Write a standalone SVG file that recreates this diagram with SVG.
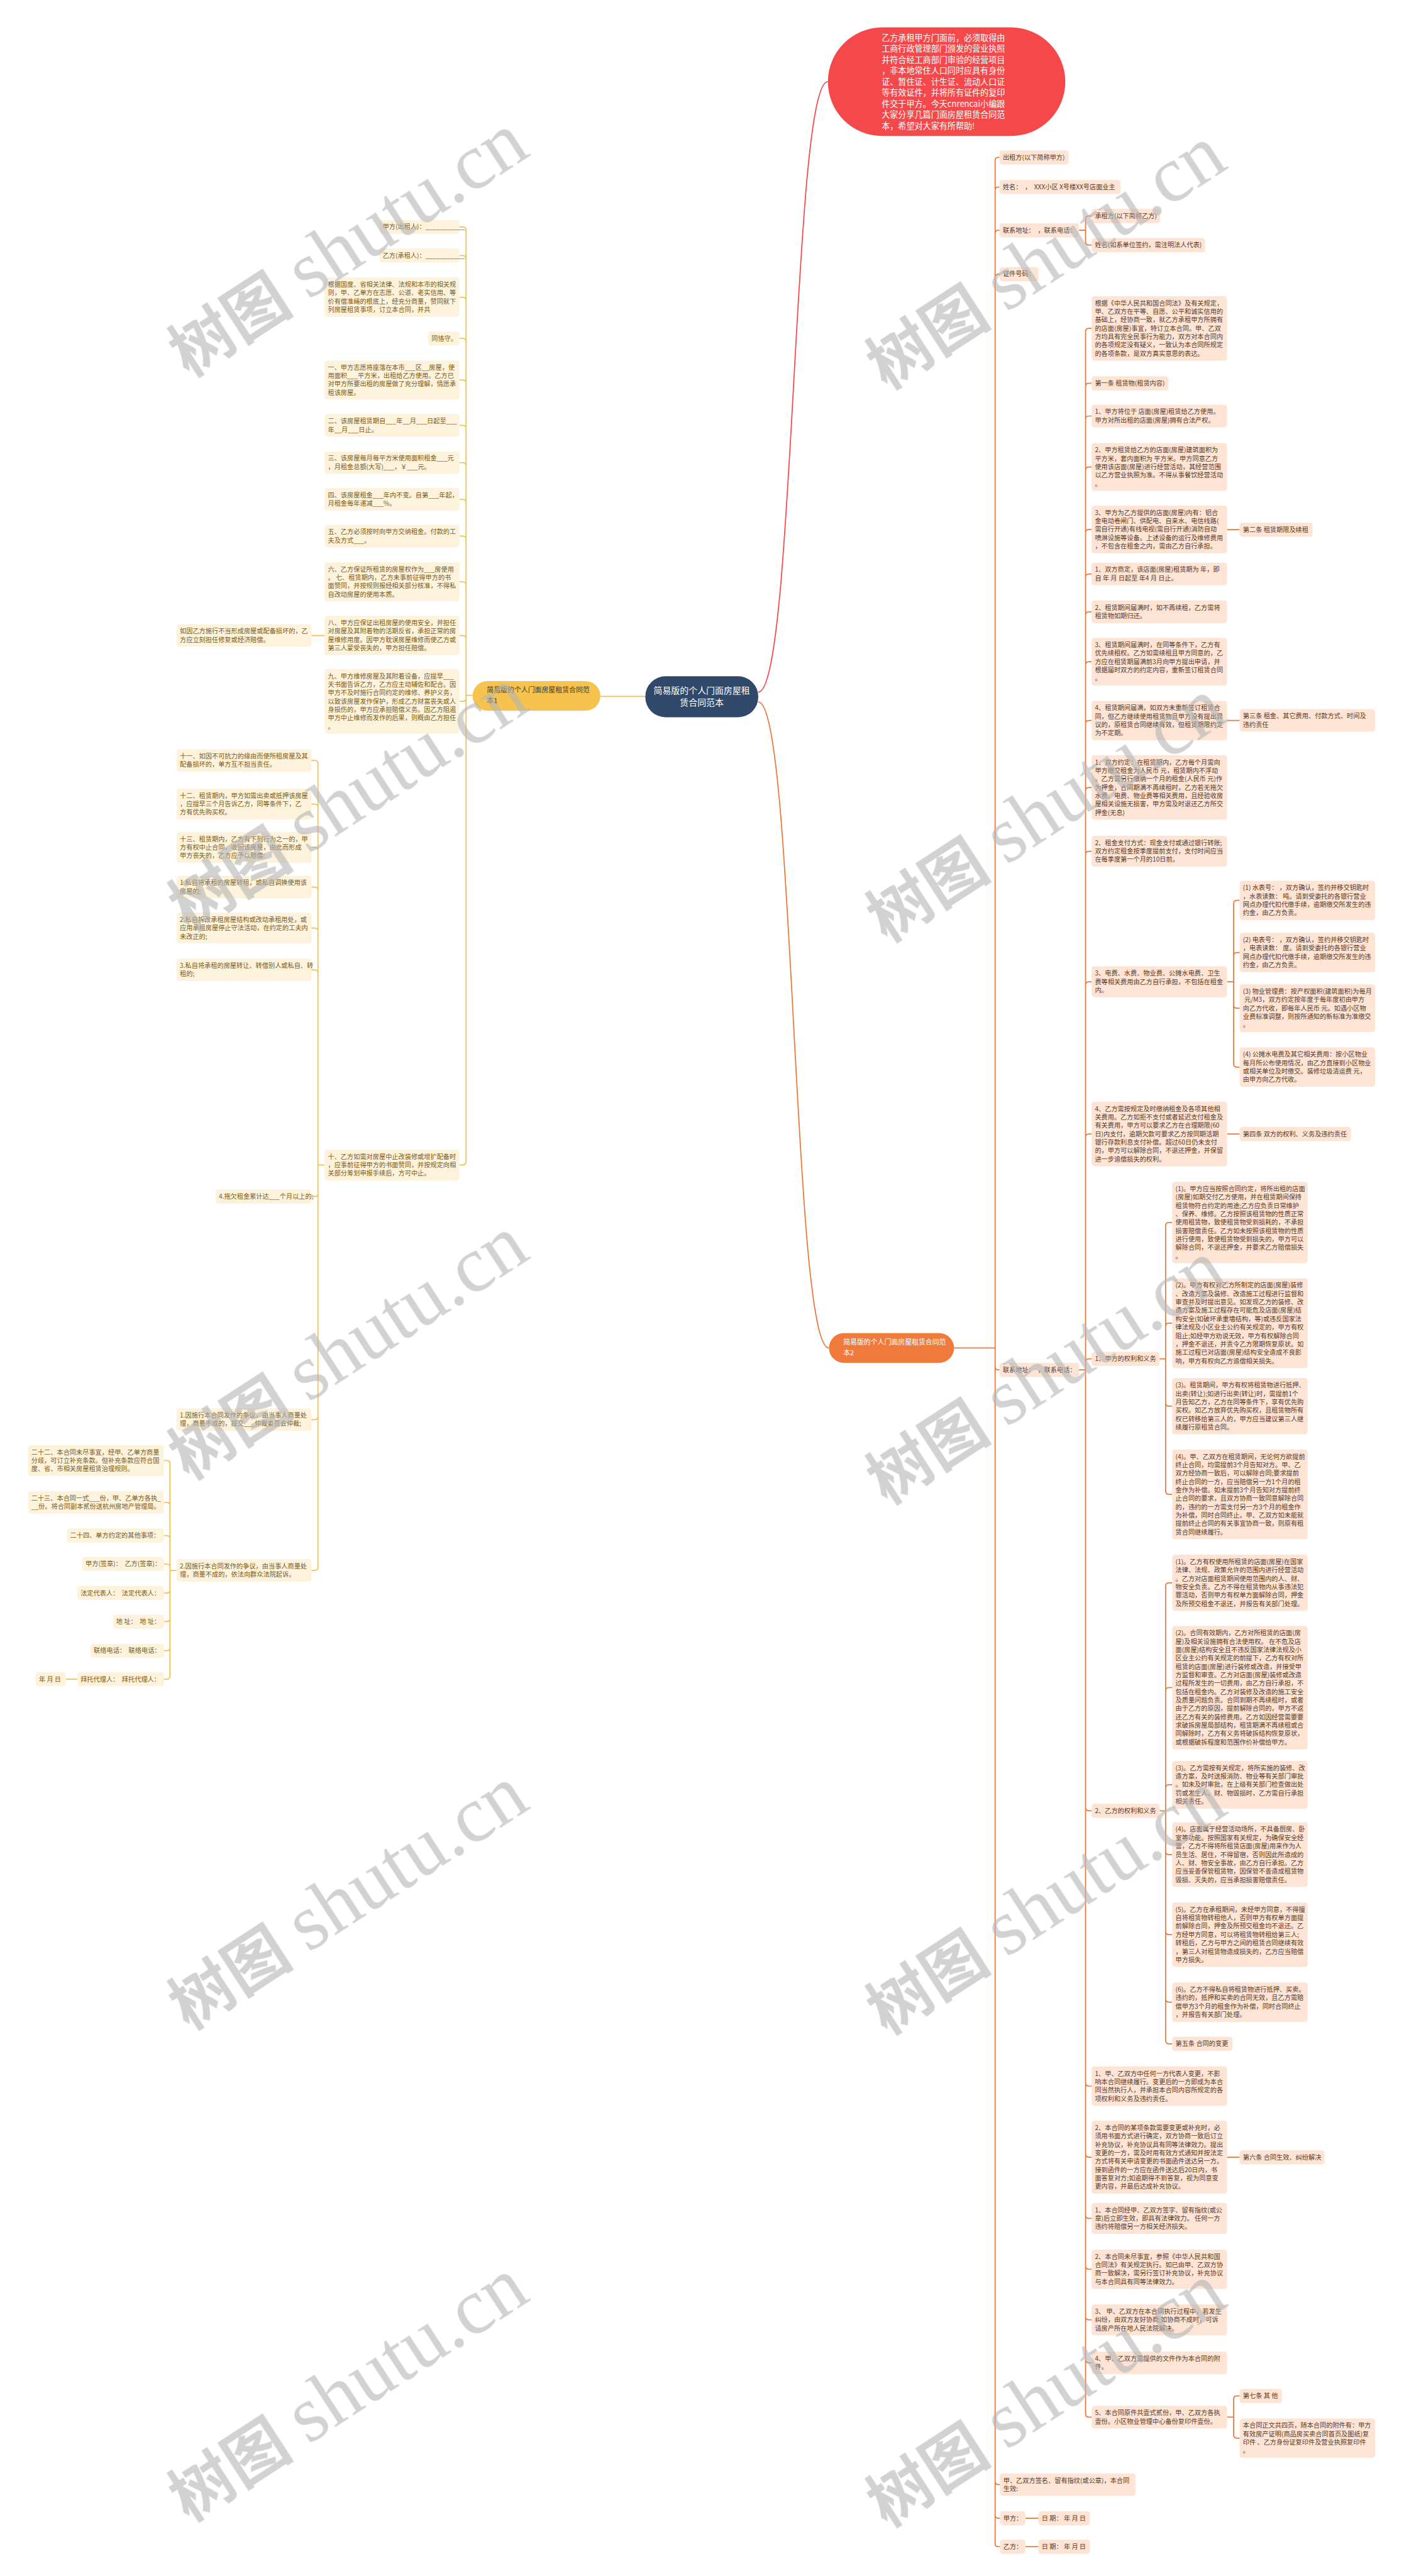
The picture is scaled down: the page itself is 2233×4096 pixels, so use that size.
<svg xmlns="http://www.w3.org/2000/svg" width="2233" height="4096" viewBox="0 0 2233 4096">
<style>
text{font-family:"Noto Sans CJK SC","Noto Sans",sans-serif;}
.rb{fill:#fde4d4}
.lb{fill:#fdf3dc}
.rt{fill:#5b3a28;font-size:11.7px}
.lt{fill:#7b5a18;font-size:11.7px}
.rc{fill:none;stroke:#e8783a;stroke-width:2}
.lc{fill:none;stroke:#f2c14e;stroke-width:2}
.wm{fill:#b4b4b4;opacity:0.6}
</style>
<rect width="2233" height="4096" fill="#ffffff"/>
<g transform="scale(0.872)">
<g id="connectors">
<path d="M1383,1262 C1450,1262 1445,149 1510,149" fill="none" stroke="#f4484b" stroke-width="2"/>
<path class="rc" d="M1383,1280 C1450,1280 1445,2458 1512,2458"/>
<path class="lc" d="M1177,1270 H1095"/>
<path class="rc" d="M1740,2458H1815 M1815,292.9V4637.9 M1815,292.9Q1815,286.9 1821,286.9H1823 M1815,346.9Q1815,340.9 1821,340.9H1823 M1815,425.9Q1815,419.9 1821,419.9H1823 M1815,505.9Q1815,499.9 1821,499.9H1823 M1815,2491.9Q1815,2497.9 1821,2497.9H1823 M1815,4524.6Q1815,4530.6 1821,4530.6H1824 M1815,4585.9Q1815,4591.9 1821,4591.9H1824 M1815,4637.9Q1815,4643.9 1821,4643.9H1824"/>
<path class="rc" d="M1968,419.9H1980 M1980,399.9V440.9 M1980,399.9Q1980,393.9 1986,393.9H1991 M1980,440.9Q1980,446.9 1986,446.9H1991"/>
<path class="rc" d="M1968,2497.9H1980 M1980,604.8V4401.6 M1980,604.8Q1980,598.8 1986,598.8H1991 M1980,704.9Q1980,698.9 1986,698.9H1991 M1980,764.6Q1980,758.6 1986,758.6H1991 M1980,857.5Q1980,851.5 1986,851.5H1991 M1980,971.5Q1980,965.5 1986,965.5H1991 M1980,1052.6Q1980,1046.6 1986,1046.6H1991 M1980,1121.6Q1980,1115.6 1986,1115.6H1991 M1980,1212.5Q1980,1206.5 1986,1206.5H1991 M1980,1319.9Q1980,1313.9 1986,1313.9H1991 M1980,1441.8Q1980,1435.8 1986,1435.8H1991 M1980,1558.2Q1980,1552.2 1986,1552.2H1991 M1980,1796.2Q1980,1790.2 1986,1790.2H1991 M1980,2073.8Q1980,2067.8 1986,2067.8H1991 M1980,2483.9Q1980,2477.9 1986,2477.9H1991 M1980,3295.9Q1980,3301.9 1986,3301.9H1991 M1980,3797.9Q1980,3803.9 1986,3803.9H1991 M1980,3927.5Q1980,3933.5 1986,3933.5H1991 M1980,4039.2Q1980,4045.2 1986,4045.2H1991 M1980,4131.9Q1980,4137.9 1986,4137.9H1991 M1980,4224.2Q1980,4230.2 1986,4230.2H1991 M1980,4302.6Q1980,4308.6 1986,4308.6H1991 M1980,4401.6Q1980,4407.6 1986,4407.6H1991"/>
<path class="rc" d="M2238,965.7H2261 M2238,1313.8H2261 M2238,2067.8H2261 M2238,3933.7H2261 M1870,4591.9H1894 M1870,4643.9H1894"/>
<path class="rc" d="M2238,1790.2H2250 M2250,1647.9V1939.9 M2250,1647.9Q2250,1641.9 2256,1641.9H2261 M2250,1742.9Q2250,1736.9 2256,1736.9H2261 M2250,1832.5Q2250,1838.5 2256,1838.5H2261 M2250,1939.9Q2250,1945.9 2256,1945.9H2261"/>
<path class="rc" d="M2115,2477.9H2126 M2126,2235.1V2718.8 M2126,2235.1Q2126,2229.1 2132,2229.1H2138 M2126,2418.8Q2126,2412.8 2132,2412.8H2138 M2126,2558.2Q2126,2564.2 2132,2564.2H2138 M2126,2718.8Q2126,2724.8 2132,2724.8H2138"/>
<path class="rc" d="M2115,3301.9H2126 M2126,2892.2V3720.9 M2126,2892.2Q2126,2886.2 2132,2886.2H2138 M2126,3083.4Q2126,3077.4 2132,3077.4H2138 M2126,3260.5Q2126,3254.5 2132,3254.5H2138 M2126,3375.8Q2126,3381.8 2132,3381.8H2138 M2126,3521.8Q2126,3527.8 2132,3527.8H2138 M2126,3644.9Q2126,3650.9 2132,3650.9H2138 M2126,3720.9Q2126,3726.9 2132,3726.9H2138"/>
<path class="rc" d="M2238,4407.6H2250 M2250,4374.9V4439.9 M2250,4374.9Q2250,4368.9 2256,4368.9H2261 M2250,4439.9Q2250,4445.9 2256,4445.9H2261"/>
<path class="lc" d="M862,1268H850 M850,419.9V2118.2 M850,419.9Q850,413.9 844,413.9H838 M850,471.9Q850,465.9 844,465.9H838 M850,547.9Q850,541.9 844,541.9H838 M850,622.9Q850,616.9 844,616.9H838 M850,698.9Q850,692.9 844,692.9H838 M850,781.6Q850,775.6 844,775.6H838 M850,849.6Q850,843.6 844,843.6H838 M850,916.6Q850,910.6 844,910.6H838 M850,983.6Q850,977.6 844,977.6H838 M850,1066.9Q850,1060.9 844,1060.9H838 M850,1164.9Q850,1158.9 844,1158.9H838 M850,1272.8Q850,1278.8 844,1278.8H838 M850,2118.2Q850,2124.2 844,2124.2H838"/>
<path class="lc" d="M592,1158.9H568"/>
<path class="lc" d="M592,2124.2H580 M580,1392.6V2857.6 M580,1392.6Q580,1386.6 574,1386.6H568 M580,1472.2Q580,1466.2 574,1466.2H568 M580,1551.2Q580,1545.2 574,1545.2H568 M580,1623.6Q580,1617.6 574,1617.6H568 M580,1698.2Q580,1692.2 574,1692.2H568 M580,1774.6Q580,1768.6 574,1768.6H568 M580,2175.9Q580,2181.9 574,2181.9H568 M580,2582.6Q580,2588.6 574,2588.6H568 M580,2857.6Q580,2863.6 574,2863.6H568"/>
<path class="lc" d="M322,2863.6H310 M310,2669.2V3055.9 M310,2669.2Q310,2663.2 304,2663.2H299 M310,2745.6Q310,2739.6 304,2739.6H299 M310,2805.9Q310,2799.9 304,2799.9H299 M310,2857.9Q310,2851.9 304,2851.9H299 M310,2898.9Q310,2904.9 304,2904.9H299 M310,2950.9Q310,2956.9 304,2956.9H299 M310,3003.9Q310,3009.9 304,3009.9H299 M310,3055.9Q310,3061.9 304,3061.9H299 M141,3061.9H120"/>
</g>

<g id="root">
<rect x="1177" y="1233" width="206" height="75" rx="37" fill="#30496a"/>
<text x="1280" y="1265" fill="#ffffff" font-size="16" text-anchor="middle"><tspan x="1280">简易版的个人门面房屋租</tspan><tspan x="1280" dy="22">赁合同范本</tspan></text>
</g>
<g id="intro">
<rect x="1510" y="50" width="433" height="198" rx="99" fill="#f4484b"/>
<text x="1608" y="74.6" fill="#ffffff" font-size="15"><tspan x="1608">乙方承租甲方门面前，必须取得由</tspan><tspan x="1608" dy="20">工商行政管理部门颁发的营业执照</tspan><tspan x="1608" dy="20">并符合经工商部门审验的经营项目</tspan><tspan x="1608" dy="20">，非本地常住人口同时应具有身份</tspan><tspan x="1608" dy="20">证、暂住证、计生证、流动人口证</tspan><tspan x="1608" dy="20">等有效证件，并将所有证件的复印</tspan><tspan x="1608" dy="20">件交于甲方。今天cnrencai小编跟</tspan><tspan x="1608" dy="20">大家分享几篇门面房屋租赁合同范</tspan><tspan x="1608" dy="20">本，希望对大家有所帮助!</tspan></text>
</g>
<g id="branch1">
<rect x="862" y="1242" width="233" height="54" rx="27" fill="#f6c34f"/>
<text x="888" y="1263" fill="#3d3a30" font-size="12.5"><tspan x="888">简易版的个人门面房屋租赁合同范</tspan><tspan x="888" dy="19">本1</tspan></text>
</g>
<g id="branch2">
<rect x="1512" y="2431" width="228" height="54" rx="27" fill="#ef7a3b"/>
<text x="1538" y="2452" fill="#ffffff" font-size="12.5"><tspan x="1538">简易版的个人门面房屋租赁合同范</tspan><tspan x="1538" dy="19">本2</tspan></text>
</g>

<g id="r-top1"><rect class="rb" x="1823" y="274" width="126" height="25.8" rx="5"/><text class="rt" x="1829" y="291">出租方(以下简称甲方)</text></g>
<g id="r-top2"><rect class="rb" x="1823" y="328" width="221" height="25.8" rx="5"/><text class="rt" x="1829" y="345">姓名：&#160;&#160;，&#160;&#160;XXX小区 X号楼XX号店面业主</text></g>
<g id="r-top3"><rect class="rb" x="1823" y="407" width="145" height="25.8" rx="5"/><text class="rt" x="1829" y="424">联系地址：&#160;&#160;，联系电话：</text></g>
<g id="r-top3a"><rect class="rb" x="1991" y="381" width="125" height="25.8" rx="5"/><text class="rt" x="1997" y="398">承租方(以下简称乙方)</text></g>
<g id="r-top3b"><rect class="rb" x="1991" y="434" width="207" height="25.8" rx="5"/><text class="rt" x="1997" y="451">姓名(如系单位签约，需注明法人代表)</text></g>
<g id="r-top4"><rect class="rb" x="1823" y="487" width="71" height="25.8" rx="5"/><text class="rt" x="1829" y="504">证件号码：</text></g>
<g id="r-addr2"><rect class="rb" x="1823" y="2485" width="145" height="25.8" rx="5"/><text class="rt" x="1829" y="2502">联系地址：&#160;&#160;，联系电话：</text></g>
<g id="r-sign"><rect class="rb" x="1824" y="4510" width="247" height="41.1" rx="5"/><text class="rt" x="1830" y="4527"><tspan x="1830">甲、乙双方签名、留有指纹(或公章)，本合同</tspan><tspan x="1830" dy="15.3">生效:</tspan></text></g>
<g id="r-jia"><rect class="rb" x="1824" y="4579" width="46" height="25.8" rx="5"/><text class="rt" x="1830" y="4596">甲方：</text></g>
<g id="r-jia-d"><rect class="rb" x="1894" y="4579" width="94" height="25.8" rx="5"/><text class="rt" x="1900" y="4596">日 期：&#160;年 月 日</text></g>
<g id="r-yi"><rect class="rb" x="1824" y="4631" width="46" height="25.8" rx="5"/><text class="rt" x="1830" y="4648">乙方：</text></g>
<g id="r-yi-d"><rect class="rb" x="1894" y="4631" width="94" height="25.8" rx="5"/><text class="rt" x="1900" y="4648">日 期：&#160;年 月 日</text></g>

<g id="r1"><rect class="rb" x="1991" y="540" width="247" height="117.6" rx="5"/><text class="rt" x="1997" y="557"><tspan x="1997">根据《中华人民共和国合同法》及有关规定，</tspan><tspan x="1997" dy="15.3">甲、乙双方在平等、自愿、公平和诚实信用的</tspan><tspan x="1997" dy="15.3">基础上，经协商一致，就乙方承租甲方所拥有</tspan><tspan x="1997" dy="15.3">的店面(房屋)事宜，特订立本合同。甲、乙双</tspan><tspan x="1997" dy="15.3">方均具有完全民事行为能力，双方对本合同内</tspan><tspan x="1997" dy="15.3">的各项规定没有疑义，一致认为本合同所规定</tspan><tspan x="1997" dy="15.3">的各项条款，是双方真实意思的表达。</tspan></text></g>
<g id="r2"><rect class="rb" x="1991" y="686" width="140" height="25.8" rx="5"/><text class="rt" x="1997" y="703">第一条 租赁物(租赁内容)</text></g>
<g id="r3"><rect class="rb" x="1991" y="738" width="247" height="41.1" rx="5"/><text class="rt" x="1997" y="755"><tspan x="1997">1、甲方将位于 店面(房屋)租赁给乙方使用。</tspan><tspan x="1997" dy="15.3">甲方对所出租的店面(房屋)拥有合法产权。</tspan></text></g>
<g id="r4"><rect class="rb" x="1991" y="808" width="247" height="87" rx="5"/><text class="rt" x="1997" y="825"><tspan x="1997">2、甲方租赁给乙方的店面(房屋)建筑面积为</tspan><tspan x="1997" dy="15.3">平方米，套内面积为 平方米。甲方同意乙方</tspan><tspan x="1997" dy="15.3">使用该店面(房屋)进行经营活动，其经营范围</tspan><tspan x="1997" dy="15.3">以乙方营业执照为准。不得从事餐饮经营活动</tspan><tspan x="1997" dy="15.3">。</tspan></text></g>
<g id="r5"><rect class="rb" x="1991" y="922" width="247" height="87" rx="5"/><text class="rt" x="1997" y="939"><tspan x="1997">3、甲方为乙方提供的店面(房屋)内有：铝合</tspan><tspan x="1997" dy="15.3">金电动卷闸门、供配电、自来水、电信线路(</tspan><tspan x="1997" dy="15.3">需自行开通)有线电视(需自行开通)消防自动</tspan><tspan x="1997" dy="15.3">喷淋设施等设备。上述设备的运行及维修费用</tspan><tspan x="1997" dy="15.3">，不包含在租金之内，需由乙方自行承担。</tspan></text></g>
<g id="r5a"><rect class="rb" x="2261" y="953" width="133" height="25.8" rx="5"/><text class="rt" x="2267" y="970">第二条 租赁期限及续租</text></g>
<g id="r6"><rect class="rb" x="1991" y="1026" width="247" height="41.1" rx="5"/><text class="rt" x="1997" y="1043"><tspan x="1997">1、双方商定，该店面(房屋)租赁期为 年，即</tspan><tspan x="1997" dy="15.3">自 年 月 日起至 年4 月 日止。</tspan></text></g>
<g id="r7"><rect class="rb" x="1991" y="1095" width="247" height="41.1" rx="5"/><text class="rt" x="1997" y="1112"><tspan x="1997">2、租赁期间届满时，如不再续租，乙方需将</tspan><tspan x="1997" dy="15.3">租赁物如期归还。</tspan></text></g>
<g id="r8"><rect class="rb" x="1991" y="1163" width="247" height="87" rx="5"/><text class="rt" x="1997" y="1180"><tspan x="1997">3、租赁期间届满时，在同等条件下，乙方有</tspan><tspan x="1997" dy="15.3">优先续租权。乙方如需续租且甲方同意的，乙</tspan><tspan x="1997" dy="15.3">方应在租赁期届满前3月向甲方提出申请，并</tspan><tspan x="1997" dy="15.3">根据届时双方的约定内容，重新签订租赁合同</tspan><tspan x="1997" dy="15.3">。</tspan></text></g>
<g id="r9"><rect class="rb" x="1991" y="1278" width="247" height="71.7" rx="5"/><text class="rt" x="1997" y="1295"><tspan x="1997">4、租赁期间届满，如双方未重新签订租赁合</tspan><tspan x="1997" dy="15.3">同，但乙方继续使用租赁物且甲方没有提出异</tspan><tspan x="1997" dy="15.3">议的，原租赁合同继续有效，但租赁期限约定</tspan><tspan x="1997" dy="15.3">为不定期。</tspan></text></g>
<g id="r9a"><rect class="rb" x="2261" y="1293" width="247" height="41.1" rx="5"/><text class="rt" x="2267" y="1310"><tspan x="2267">第三条 租金、其它费用、付款方式、时间及</tspan><tspan x="2267" dy="15.3">违约责任</tspan></text></g>
<g id="r10"><rect class="rb" x="1991" y="1377" width="247" height="117.6" rx="5"/><text class="rt" x="1997" y="1394"><tspan x="1997">1、双方约定：在租赁期内，乙方每个月需向</tspan><tspan x="1997" dy="15.3">甲方缴交租金为人民币 元，租赁期内不浮动</tspan><tspan x="1997" dy="15.3">。乙方需另行缴纳一个月的租金(人民币 元)作</tspan><tspan x="1997" dy="15.3">为押金，合同期满不再续租时，乙方若无拖欠</tspan><tspan x="1997" dy="15.3">水费、电费、物业费等相关费用，且经验收房</tspan><tspan x="1997" dy="15.3">屋相关设施无损害，甲方需及时退还乙方所交</tspan><tspan x="1997" dy="15.3">押金(无息)</tspan></text></g>
<g id="r11"><rect class="rb" x="1991" y="1524" width="247" height="56.4" rx="5"/><text class="rt" x="1997" y="1541"><tspan x="1997">2、租金支付方式：现金支付或通过银行转账;</tspan><tspan x="1997" dy="15.3">双方约定租金按季度提前支付，支付时间应当</tspan><tspan x="1997" dy="15.3">在每季度第一个月的10日前。</tspan></text></g>
<g id="r12"><rect class="rb" x="1991" y="1762" width="247" height="56.4" rx="5"/><text class="rt" x="1997" y="1779"><tspan x="1997">3、电费、水费、物业费、公摊水电费、卫生</tspan><tspan x="1997" dy="15.3">费等相关费用由乙方自行承担，不包括在租金</tspan><tspan x="1997" dy="15.3">内。</tspan></text></g>
<g id="r12a"><rect class="rb" x="2261" y="1606" width="247" height="71.7" rx="5"/><text class="rt" x="2267" y="1623"><tspan x="2267">(1) 水表号： ，双方确认，签约并移交钥匙时</tspan><tspan x="2267" dy="15.3">，水表读数： 吨。请到受委托的各银行营业</tspan><tspan x="2267" dy="15.3">网点办理代扣代缴手续，逾期缴交所发生的违</tspan><tspan x="2267" dy="15.3">约金，由乙方负责。</tspan></text></g>
<g id="r12b"><rect class="rb" x="2261" y="1701" width="247" height="71.7" rx="5"/><text class="rt" x="2267" y="1718"><tspan x="2267">(2) 电表号： ，双方确认，签约并移交钥匙时</tspan><tspan x="2267" dy="15.3">，电表读数： 度。请到受委托的各银行营业</tspan><tspan x="2267" dy="15.3">网点办理代扣代缴手续，逾期缴交所发生的违</tspan><tspan x="2267" dy="15.3">约金，由乙方负责。</tspan></text></g>
<g id="r12c"><rect class="rb" x="2261" y="1795" width="247" height="87" rx="5"/><text class="rt" x="2267" y="1812"><tspan x="2267">(3) 物业管理费：按产权面积(建筑面积)为每月</tspan><tspan x="2267" dy="15.3"> 元/M3，双方约定按年度于每年度初由甲方</tspan><tspan x="2267" dy="15.3">向乙方代收，即每年人民币 元。如遇小区物</tspan><tspan x="2267" dy="15.3">业费标准调整，则按所通知的新标准为准缴交</tspan><tspan x="2267" dy="15.3">。</tspan></text></g>
<g id="r12d"><rect class="rb" x="2261" y="1910" width="247" height="71.7" rx="5"/><text class="rt" x="2267" y="1927"><tspan x="2267">(4) 公摊水电费及其它相关费用：按小区物业</tspan><tspan x="2267" dy="15.3">每月所公布使用情况，由乙方直接到小区物业</tspan><tspan x="2267" dy="15.3">或相关单位及时缴交。装修垃圾清运费 元，</tspan><tspan x="2267" dy="15.3">由甲方向乙方代收。</tspan></text></g>
<g id="r13"><rect class="rb" x="1991" y="2009" width="247" height="117.6" rx="5"/><text class="rt" x="1997" y="2026"><tspan x="1997">4、乙方需按规定及时缴纳租金及各项其他相</tspan><tspan x="1997" dy="15.3">关费用。乙方如拒不支付或者延迟支付租金及</tspan><tspan x="1997" dy="15.3">有关费用，甲方可以要求乙方在合理期限(60</tspan><tspan x="1997" dy="15.3">日)内支付，逾期欠款可要求乙方按同期活期</tspan><tspan x="1997" dy="15.3">银行存款利息支付补偿。超过60日仍未支付</tspan><tspan x="1997" dy="15.3">的，甲方可以解除合同，不退还押金，并保留</tspan><tspan x="1997" dy="15.3">进一步追偿损失的权利。</tspan></text></g>
<g id="r13a"><rect class="rb" x="2261" y="2055" width="203" height="25.8" rx="5"/><text class="rt" x="2267" y="2072">第四条 双方的权利、义务及违约责任</text></g>
<g id="r14"><rect class="rb" x="1991" y="2465" width="124" height="25.8" rx="5"/><text class="rt" x="1997" y="2482">1、甲方的权利和义务</text></g>
<g id="r14a"><rect class="rb" x="2138" y="2155" width="247" height="148.2" rx="5"/><text class="rt" x="2144" y="2172"><tspan x="2144">(1)。甲方应当按照合同约定，将所出租的店面</tspan><tspan x="2144" dy="15.3">(房屋)如期交付乙方使用，并在租赁期间保持</tspan><tspan x="2144" dy="15.3">租赁物符合约定的用途;乙方应负责日常维护</tspan><tspan x="2144" dy="15.3">、保养、维修。乙方按照该租赁物的性质正常</tspan><tspan x="2144" dy="15.3">使用租赁物，致使租赁物受到损耗的，不承担</tspan><tspan x="2144" dy="15.3">损害赔偿责任。乙方如未按照该租赁物的性质</tspan><tspan x="2144" dy="15.3">进行使用，致使租赁物受到损失的，甲方可以</tspan><tspan x="2144" dy="15.3">解除合同，不退还押金，并要求乙方赔偿损失</tspan><tspan x="2144" dy="15.3">。</tspan></text></g>
<g id="r14b"><rect class="rb" x="2138" y="2331" width="247" height="163.5" rx="5"/><text class="rt" x="2144" y="2348"><tspan x="2144">(2)。甲方有权对乙方所制定的店面(房屋)装修</tspan><tspan x="2144" dy="15.3">、改造方案及装修、改造施工过程进行监督和</tspan><tspan x="2144" dy="15.3">审查并及时提出意见。如发现乙方的装修、改</tspan><tspan x="2144" dy="15.3">造方案及施工过程存在可能危及店面(房屋)结</tspan><tspan x="2144" dy="15.3">构安全(如破坏承重墙结构，等)或违反国家法</tspan><tspan x="2144" dy="15.3">律法规及小区业主公约有关规定的，甲方有权</tspan><tspan x="2144" dy="15.3">阻止;如经甲方劝说无效，甲方有权解除合同</tspan><tspan x="2144" dy="15.3">，押金不退还，并责令乙方限期恢复原状。如</tspan><tspan x="2144" dy="15.3">施工过程已对店面(房屋)结构安全造成不良影</tspan><tspan x="2144" dy="15.3">响，甲方有权向乙方追偿相关损失。</tspan></text></g>
<g id="r14c"><rect class="rb" x="2138" y="2513" width="247" height="102.3" rx="5"/><text class="rt" x="2144" y="2530"><tspan x="2144">(3)。租赁期间，甲方有权将租赁物进行抵押、</tspan><tspan x="2144" dy="15.3">出卖(转让);如进行出卖(转让)时，需提前1个</tspan><tspan x="2144" dy="15.3">月告知乙方，乙方在同等条件下，享有优先购</tspan><tspan x="2144" dy="15.3">买权。如乙方放弃优先购买权，且租赁物所有</tspan><tspan x="2144" dy="15.3">权已转移给第三人的，甲方应当建议第三人继</tspan><tspan x="2144" dy="15.3">续履行原租赁合同。</tspan></text></g>
<g id="r14d"><rect class="rb" x="2138" y="2643" width="247" height="163.5" rx="5"/><text class="rt" x="2144" y="2660"><tspan x="2144">(4)。甲、乙双方在租赁期间，无论何方欲提前</tspan><tspan x="2144" dy="15.3">终止合同，均需提前3个月告知对方。甲、乙</tspan><tspan x="2144" dy="15.3">双方经协商一致后，可以解除合同;要求提前</tspan><tspan x="2144" dy="15.3">终止合同的一方，应当赔偿另一方1个月的租</tspan><tspan x="2144" dy="15.3">金作为补偿。如未提前3个月告知对方提前终</tspan><tspan x="2144" dy="15.3">止合同的要求，且双方协商一致同意解除合同</tspan><tspan x="2144" dy="15.3">的，违约的一方需支付另一方3个月的租金作</tspan><tspan x="2144" dy="15.3">为补偿，同时合同终止。甲、乙双方如未能就</tspan><tspan x="2144" dy="15.3">提前终止合同的有关事宜协商一致，则原有租</tspan><tspan x="2144" dy="15.3">赁合同继续履行。</tspan></text></g>
<g id="r15"><rect class="rb" x="1991" y="3289" width="124" height="25.8" rx="5"/><text class="rt" x="1997" y="3306">2、乙方的权利和义务</text></g>
<g id="r15a"><rect class="rb" x="2138" y="2835" width="247" height="102.3" rx="5"/><text class="rt" x="2144" y="2852"><tspan x="2144">(1)。乙方有权使用所租赁的店面(房屋)在国家</tspan><tspan x="2144" dy="15.3">法律、法规、政策允许的范围内进行经营活动</tspan><tspan x="2144" dy="15.3">。乙方对店面租赁期间使用范围内的人、财、</tspan><tspan x="2144" dy="15.3">物安全负责。乙方不得在租赁物内从事违法犯</tspan><tspan x="2144" dy="15.3">罪活动，否则甲方有权单方面解除合同，押金</tspan><tspan x="2144" dy="15.3">及所预交租金不退还，并报告有关部门处理。</tspan></text></g>
<g id="r15b"><rect class="rb" x="2138" y="2965" width="247" height="224.7" rx="5"/><text class="rt" x="2144" y="2982"><tspan x="2144">(2)。合同有效期内，乙方对所租赁的店面(房</tspan><tspan x="2144" dy="15.3">屋)及相关设施拥有合法使用权。 在不危及店</tspan><tspan x="2144" dy="15.3">面(房屋)结构安全且不违反国家法律法规及小</tspan><tspan x="2144" dy="15.3">区业主公约有关规定的前提下，乙方有权对所</tspan><tspan x="2144" dy="15.3">租赁的店面(房屋)进行装修或改造，并接受甲</tspan><tspan x="2144" dy="15.3">方监督和审查。乙方对店面(房屋)装修或改造</tspan><tspan x="2144" dy="15.3">过程所发生的一切费用，由乙方自行承担，不</tspan><tspan x="2144" dy="15.3">包括在租金内。乙方对装修及改造的施工安全</tspan><tspan x="2144" dy="15.3">及质量问题负责。合同到期不再续租时，或者</tspan><tspan x="2144" dy="15.3">由于乙方的原因，提前解除合同的，甲方不返</tspan><tspan x="2144" dy="15.3">还乙方有关的装修费用。乙方如因经营需要要</tspan><tspan x="2144" dy="15.3">求破拆房屋局部结构，租赁期满不再续租或合</tspan><tspan x="2144" dy="15.3">同解除时，乙方有义务将破拆结构恢复原状，</tspan><tspan x="2144" dy="15.3">或根据破拆程度和范围作价补偿给甲方。</tspan></text></g>
<g id="r15c"><rect class="rb" x="2138" y="3211" width="247" height="87" rx="5"/><text class="rt" x="2144" y="3228"><tspan x="2144">(3)。乙方需按有关规定，将所实施的装修、改</tspan><tspan x="2144" dy="15.3">造方案，及时送报消防、物业等有关部门审批</tspan><tspan x="2144" dy="15.3">。如未及时审批，在上级有关部门检查做出处</tspan><tspan x="2144" dy="15.3">罚或发生人、财、物毁损时，乙方需自行承担</tspan><tspan x="2144" dy="15.3">相关责任。</tspan></text></g>
<g id="r15d"><rect class="rb" x="2138" y="3323" width="247" height="117.6" rx="5"/><text class="rt" x="2144" y="3340"><tspan x="2144">(4)。店面属于经营活动场所，不具备厨房、卧</tspan><tspan x="2144" dy="15.3">室等功能。按照国家有关规定，为确保安全经</tspan><tspan x="2144" dy="15.3">营，乙方不得将所租赁店面(房屋)用来作为人</tspan><tspan x="2144" dy="15.3">员生活、居住，不得留宿，否则因此所造成的</tspan><tspan x="2144" dy="15.3">人、财、物安全事故，由乙方自行承担。乙方</tspan><tspan x="2144" dy="15.3">应当妥善保管租赁物，因保管不善造成租赁物</tspan><tspan x="2144" dy="15.3">毁损、灭失的，应当承担损害赔偿责任。</tspan></text></g>
<g id="r15e"><rect class="rb" x="2138" y="3469" width="247" height="117.6" rx="5"/><text class="rt" x="2144" y="3486"><tspan x="2144">(5)。乙方在承租期间，未经甲方同意，不得擅</tspan><tspan x="2144" dy="15.3">自将租赁物转租他人，否则甲方有权单方面提</tspan><tspan x="2144" dy="15.3">前解除合同，押金及所预交租金均不退还。乙</tspan><tspan x="2144" dy="15.3">方经甲方同意，可以将租赁物转租给第三人;</tspan><tspan x="2144" dy="15.3">转租后，乙方与甲方之间的租赁合同继续有效</tspan><tspan x="2144" dy="15.3">，第三人对租赁物造成损失的，乙方应当赔偿</tspan><tspan x="2144" dy="15.3">甲方损失。</tspan></text></g>
<g id="r15f"><rect class="rb" x="2138" y="3615" width="247" height="71.7" rx="5"/><text class="rt" x="2144" y="3632"><tspan x="2144">(6)。乙方不得私自将租赁物进行抵押、买卖。</tspan><tspan x="2144" dy="15.3">违约的，抵押和买卖的合同无效，且乙方需赔</tspan><tspan x="2144" dy="15.3">偿甲方3个月的租金作为补偿，同时合同终止</tspan><tspan x="2144" dy="15.3">，并报告有关部门处理。</tspan></text></g>
<g id="r15g"><rect class="rb" x="2138" y="3714" width="110" height="25.8" rx="5"/><text class="rt" x="2144" y="3731">第五条 合同的变更</text></g>
<g id="r16"><rect class="rb" x="1991" y="3768" width="247" height="71.7" rx="5"/><text class="rt" x="1997" y="3785"><tspan x="1997">1、甲、乙双方中任何一方代表人变更，不影</tspan><tspan x="1997" dy="15.3">响本合同继续履行。变更后的一方即成为本合</tspan><tspan x="1997" dy="15.3">同当然执行人，并承担本合同内容所规定的各</tspan><tspan x="1997" dy="15.3">项权利和义务及违约责任。</tspan></text></g>
<g id="r17"><rect class="rb" x="1991" y="3867" width="247" height="132.9" rx="5"/><text class="rt" x="1997" y="3884"><tspan x="1997">2、本合同的某项条款需要变更或补充时，必</tspan><tspan x="1997" dy="15.3">须用书面方式进行确定，双方协商一致后订立</tspan><tspan x="1997" dy="15.3">补充协议，补充协议具有同等法律效力。提出</tspan><tspan x="1997" dy="15.3">变更的一方，需及时用有效方式通知并按法定</tspan><tspan x="1997" dy="15.3">方式将有关申请变更的书面函件送达另一方。</tspan><tspan x="1997" dy="15.3">接到函件的一方应在函件送达后20日内，书</tspan><tspan x="1997" dy="15.3">面答复对方;如逾期得不到答复，视为同意变</tspan><tspan x="1997" dy="15.3">更内容，并最后达成补充协议。</tspan></text></g>
<g id="r17a"><rect class="rb" x="2261" y="3921" width="155" height="25.8" rx="5"/><text class="rt" x="2267" y="3938">第六条 合同生效、纠纷解决</text></g>
<g id="r18"><rect class="rb" x="1991" y="4017" width="247" height="56.4" rx="5"/><text class="rt" x="1997" y="4034"><tspan x="1997">1、本合同经甲、乙双方签字、留有指纹(或公</tspan><tspan x="1997" dy="15.3">章)后立即生效，即具有法律效力。 任何一方</tspan><tspan x="1997" dy="15.3">违约将赔偿另一方相关经济损失。</tspan></text></g>
<g id="r19"><rect class="rb" x="1991" y="4102" width="247" height="71.7" rx="5"/><text class="rt" x="1997" y="4119"><tspan x="1997">2、本合同未尽事宜，参照《中华人民共和国</tspan><tspan x="1997" dy="15.3">合同法》有关规定执行。如已由甲、乙双方协</tspan><tspan x="1997" dy="15.3">商一致解决，需另行签订补充协议，补充协议</tspan><tspan x="1997" dy="15.3">与本合同具有同等法律效力。</tspan></text></g>
<g id="r20"><rect class="rb" x="1991" y="4202" width="247" height="56.4" rx="5"/><text class="rt" x="1997" y="4219"><tspan x="1997">3、 甲、乙双方在本合同执行过程中，若发生</tspan><tspan x="1997" dy="15.3">纠纷，由双方友好协商;如协商不成时，可诉</tspan><tspan x="1997" dy="15.3">请房产所在地人民法院解决。</tspan></text></g>
<g id="r21"><rect class="rb" x="1991" y="4288" width="247" height="41.1" rx="5"/><text class="rt" x="1997" y="4305"><tspan x="1997">4、甲、乙双方需提供的文件作为本合同的附</tspan><tspan x="1997" dy="15.3">件。</tspan></text></g>
<g id="r22"><rect class="rb" x="1991" y="4387" width="247" height="41.1" rx="5"/><text class="rt" x="1997" y="4404"><tspan x="1997">5、本合同原件共壹式贰份，甲、乙双方各执</tspan><tspan x="1997" dy="15.3">壹份。小区物业管理中心备份复印件壹份。</tspan></text></g>
<g id="r22a"><rect class="rb" x="2261" y="4356" width="77" height="25.8" rx="5"/><text class="rt" x="2267" y="4373">第七条 其 他</text></g>
<g id="r22b"><rect class="rb" x="2261" y="4410" width="247" height="71.7" rx="5"/><text class="rt" x="2267" y="4427"><tspan x="2267">本合同正文共四页，随本合同的附件有：甲方</tspan><tspan x="2267" dy="15.3">有效房产证明(商品房买卖合同首页及图纸)复</tspan><tspan x="2267" dy="15.3">印件 、乙方身份证复印件及营业执照复印件</tspan><tspan x="2267" dy="15.3">。</tspan></text></g>

<g id="l1"><rect class="lb" x="692" y="401" width="146" height="25.8" rx="5"/><text class="lt" x="698" y="418">甲方(出租人)：___________</text></g>
<g id="l2"><rect class="lb" x="692" y="453" width="146" height="25.8" rx="5"/><text class="lt" x="698" y="470">乙方(承租人)：___________</text></g>
<g id="l3"><rect class="lb" x="592" y="506" width="246" height="71.7" rx="5"/><text class="lt" x="598" y="523"><tspan x="598">根据国度、省相关法律、法规和本市的相关规</tspan><tspan x="598" dy="15.3">则，甲、乙单方在志愿、公道、老实信用、等</tspan><tspan x="598" dy="15.3">价有偿准绳的根底上，经充分商量，赞同就下</tspan><tspan x="598" dy="15.3">列房屋租赁事项，订立本合同，并共</tspan></text></g>
<g id="l4"><rect class="lb" x="781" y="604" width="57" height="25.8" rx="5"/><text class="lt" x="787" y="621">同恪守。</text></g>
<g id="l5"><rect class="lb" x="592" y="657" width="246" height="71.7" rx="5"/><text class="lt" x="598" y="674"><tspan x="598">一、甲方志愿将座落在本市___区__房屋，使</tspan><tspan x="598" dy="15.3">用面积___平方米，出租给乙方使用。乙方已</tspan><tspan x="598" dy="15.3">对甲方所要出租的房屋做了充分理解，情愿承</tspan><tspan x="598" dy="15.3">租该房屋。</tspan></text></g>
<g id="l6"><rect class="lb" x="592" y="755" width="246" height="41.1" rx="5"/><text class="lt" x="598" y="772"><tspan x="598">二、该房屋租赁期自___年__月___日起至___</tspan><tspan x="598" dy="15.3">年__月___日止。</tspan></text></g>
<g id="l7"><rect class="lb" x="592" y="823" width="246" height="41.1" rx="5"/><text class="lt" x="598" y="840"><tspan x="598">三、该房屋每月每平方米使用面积租金___元</tspan><tspan x="598" dy="15.3">，月租金总额(大写)___，￥___元。</tspan></text></g>
<g id="l8"><rect class="lb" x="592" y="890" width="246" height="41.1" rx="5"/><text class="lt" x="598" y="907"><tspan x="598">四、该房屋租金___年内不变。自第___年起，</tspan><tspan x="598" dy="15.3">月租金每年递减___%。</tspan></text></g>
<g id="l9"><rect class="lb" x="592" y="957" width="246" height="41.1" rx="5"/><text class="lt" x="598" y="974"><tspan x="598">五、乙方必须按时向甲方交纳租金。付款的工</tspan><tspan x="598" dy="15.3">夫及方式___。</tspan></text></g>
<g id="l10"><rect class="lb" x="592" y="1025" width="246" height="71.7" rx="5"/><text class="lt" x="598" y="1042"><tspan x="598">六、乙方保证所租赁的房屋权作为___房使用</tspan><tspan x="598" dy="15.3">。 七、租赁期内，乙方未事前征得甲方的书</tspan><tspan x="598" dy="15.3">面赞同，并按规则报经相关部分核准，不得私</tspan><tspan x="598" dy="15.3">自改动房屋的使用本质。</tspan></text></g>
<g id="l11"><rect class="lb" x="592" y="1123" width="246" height="71.7" rx="5"/><text class="lt" x="598" y="1140"><tspan x="598">八、甲方应保证出租房屋的使用安全，并担任</tspan><tspan x="598" dy="15.3">对房屋及其附着物的活期反省，承担正常的房</tspan><tspan x="598" dy="15.3">屋维修用度。因甲方耽误房屋维修而使乙方或</tspan><tspan x="598" dy="15.3">第三人蒙受丧失的，甲方担任赔偿。</tspan></text></g>
<g id="l11a"><rect class="lb" x="322" y="1138.3" width="246" height="41.1" rx="5"/><text class="lt" x="328" y="1155.3"><tspan x="328">如因乙方施行不当形成房屋或配备损坏的，乙</tspan><tspan x="328" dy="15.3">方应立刻担任修复或经济赔偿。</tspan></text></g>
<g id="l12"><rect class="lb" x="592" y="1220" width="246" height="117.6" rx="5"/><text class="lt" x="598" y="1237"><tspan x="598">九、甲方维修房屋及其附着设备，应提早___</tspan><tspan x="598" dy="15.3">天书面告诉乙方，乙方应主动辅佐和配合。因</tspan><tspan x="598" dy="15.3">甲方不及时施行合同约定的维修、养护义务，</tspan><tspan x="598" dy="15.3">以致该房屋发作保护，形成乙方财富丧失或人</tspan><tspan x="598" dy="15.3">身损伤的，甲方应承担赔偿义务。因乙方阻遏</tspan><tspan x="598" dy="15.3">甲方中止维修而发作的后果，则概由乙方担任</tspan><tspan x="598" dy="15.3">。</tspan></text></g>
<g id="l13"><rect class="lb" x="592" y="2096" width="246" height="56.4" rx="5"/><text class="lt" x="598" y="2113"><tspan x="598">十、乙方如需对房屋中止改装修或增扩配备时</tspan><tspan x="598" dy="15.3">，应事前征得甲方的书面赞同，并按规定向相</tspan><tspan x="598" dy="15.3">关部分筹划申报手续后，方可中止。</tspan></text></g>
<g id="l13a"><rect class="lb" x="322" y="1366" width="246" height="41.1" rx="5"/><text class="lt" x="328" y="1383"><tspan x="328">十一、如因不可抗力的缘由而使所租房屋及其</tspan><tspan x="328" dy="15.3">配备损坏的，单方互不担当责任。</tspan></text></g>
<g id="l13b"><rect class="lb" x="322" y="1438" width="246" height="56.4" rx="5"/><text class="lt" x="328" y="1455"><tspan x="328">十二、租赁期内，甲方如需出卖或抵押该房屋</tspan><tspan x="328" dy="15.3">，应提早三个月告诉乙方，同等条件下，乙</tspan><tspan x="328" dy="15.3">方有优先购买权。</tspan></text></g>
<g id="l13c"><rect class="lb" x="322" y="1517" width="246" height="56.4" rx="5"/><text class="lt" x="328" y="1534"><tspan x="328">十三、租赁期内，乙方有下列行为之一的，甲</tspan><tspan x="328" dy="15.3">方有权中止合同，收回该房屋，由此而形成</tspan><tspan x="328" dy="15.3">甲方丧失的，乙方应予以赔偿:</tspan></text></g>
<g id="l13d"><rect class="lb" x="322" y="1597" width="246" height="41.1" rx="5"/><text class="lt" x="328" y="1614"><tspan x="328">1.私自将承租的房屋转租，或私自调换使用该</tspan><tspan x="328" dy="15.3">房屋的;</tspan></text></g>
<g id="l13e"><rect class="lb" x="322" y="1664" width="246" height="56.4" rx="5"/><text class="lt" x="328" y="1681"><tspan x="328">2.私自拆改承租房屋结构或改动承租用处，或</tspan><tspan x="328" dy="15.3">应用承租房屋停止守法活动，在约定的工夫内</tspan><tspan x="328" dy="15.3">未改正的;</tspan></text></g>
<g id="l13f"><rect class="lb" x="322" y="1748" width="246" height="41.1" rx="5"/><text class="lt" x="328" y="1765"><tspan x="328">3.私自将承租的房屋转让、转借别人或私自、转</tspan><tspan x="328" dy="15.3">租的;</tspan></text></g>
<g id="l13g"><rect class="lb" x="393" y="2169" width="175" height="25.8" rx="5"/><text class="lt" x="399" y="2186">4.拖欠租金累计达___个月以上的;</text></g>
<g id="l13h"><rect class="lb" x="322" y="2568" width="246" height="41.1" rx="5"/><text class="lt" x="328" y="2585"><tspan x="328">1.因施行本合同发作的争议，由当事人商量处</tspan><tspan x="328" dy="15.3">理，商量不成的，提交___仲裁委员会仲裁;</tspan></text></g>
<g id="l13i"><rect class="lb" x="322" y="2843" width="246" height="41.1" rx="5"/><text class="lt" x="328" y="2860"><tspan x="328">2.因施行本合同发作的争议，由当事人商量处</tspan><tspan x="328" dy="15.3">理，商量不成的，依法向群众法院起诉。</tspan></text></g>
<g id="l14a"><rect class="lb" x="51" y="2635" width="248" height="56.4" rx="5"/><text class="lt" x="57" y="2652"><tspan x="57">二十二、本合同未尽事宜，经甲、乙单方商量</tspan><tspan x="57" dy="15.3">分歧，可订立补充条款。但补充条款应符合国</tspan><tspan x="57" dy="15.3">度、省、市相关房屋租赁治理规则。</tspan></text></g>
<g id="l14b"><rect class="lb" x="51" y="2719" width="248" height="41.1" rx="5"/><text class="lt" x="57" y="2736"><tspan x="57">二十三、本合同一式___份，甲、乙单方各执_</tspan><tspan x="57" dy="15.3">__份。将合同副本贰份送杭州房地产管理局。</tspan></text></g>
<g id="l14c"><rect class="lb" x="122" y="2787" width="177" height="25.8" rx="5"/><text class="lt" x="128" y="2804">二十四、单方约定的其他事项：</text></g>
<g id="l14d"><rect class="lb" x="150" y="2839" width="149" height="25.8" rx="5"/><text class="lt" x="156" y="2856">甲方(签章)：&#160;&#160;乙方(签章)：</text></g>
<g id="l14e"><rect class="lb" x="141" y="2892" width="158" height="25.8" rx="5"/><text class="lt" x="147" y="2909">法定代表人：&#160;&#160;法定代表人：</text></g>
<g id="l14f"><rect class="lb" x="206" y="2944" width="93" height="25.8" rx="5"/><text class="lt" x="212" y="2961">地 址：&#160;&#160;地 址：</text></g>
<g id="l14g"><rect class="lb" x="165" y="2997" width="134" height="25.8" rx="5"/><text class="lt" x="171" y="3014">联络电话：&#160;&#160;联络电话：</text></g>
<g id="l14h"><rect class="lb" x="141" y="3049" width="158" height="25.8" rx="5"/><text class="lt" x="147" y="3066">拜托代理人：&#160;&#160;拜托代理人：</text></g>
<g id="l14i"><rect class="lb" x="65" y="3049" width="55" height="25.8" rx="5"/><text class="lt" x="71" y="3066">年 月 日</text></g>

<g id="watermarks" class="wm">
<text transform="translate(344,689) rotate(-33)"><tspan font-size="115" font-weight="700">树图</tspan><tspan font-family="Liberation Serif, serif" font-size="145" dx="30">shutu.cn</tspan></text>
<text transform="translate(344,1700) rotate(-33)"><tspan font-size="115" font-weight="700">树图</tspan><tspan font-family="Liberation Serif, serif" font-size="145" dx="30">shutu.cn</tspan></text>
<text transform="translate(344,2700) rotate(-33)"><tspan font-size="115" font-weight="700">树图</tspan><tspan font-family="Liberation Serif, serif" font-size="145" dx="30">shutu.cn</tspan></text>
<text transform="translate(344,3703) rotate(-33)"><tspan font-size="115" font-weight="700">树图</tspan><tspan font-family="Liberation Serif, serif" font-size="145" dx="30">shutu.cn</tspan></text>
<text transform="translate(344,4600) rotate(-33)"><tspan font-size="115" font-weight="700">树图</tspan><tspan font-family="Liberation Serif, serif" font-size="145" dx="30">shutu.cn</tspan></text>
<text transform="translate(1617,712) rotate(-33)"><tspan font-size="115" font-weight="700">树图</tspan><tspan font-family="Liberation Serif, serif" font-size="145" dx="30">shutu.cn</tspan></text>
<text transform="translate(1617,1720) rotate(-33)"><tspan font-size="115" font-weight="700">树图</tspan><tspan font-family="Liberation Serif, serif" font-size="145" dx="30">shutu.cn</tspan></text>
<text transform="translate(1617,2745) rotate(-33)"><tspan font-size="115" font-weight="700">树图</tspan><tspan font-family="Liberation Serif, serif" font-size="145" dx="30">shutu.cn</tspan></text>
<text transform="translate(1617,3712) rotate(-33)"><tspan font-size="115" font-weight="700">树图</tspan><tspan font-family="Liberation Serif, serif" font-size="145" dx="30">shutu.cn</tspan></text>
<text transform="translate(1617,4610) rotate(-33)"><tspan font-size="115" font-weight="700">树图</tspan><tspan font-family="Liberation Serif, serif" font-size="145" dx="30">shutu.cn</tspan></text>
</g>
</g>
</svg>
